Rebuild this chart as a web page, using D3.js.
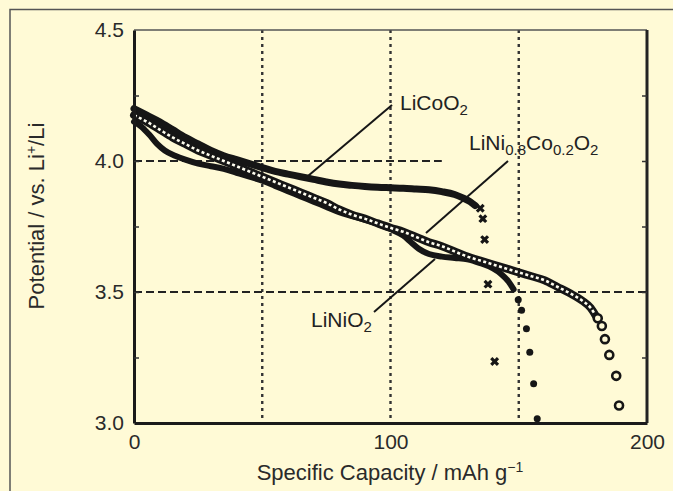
<!DOCTYPE html>
<html><head><meta charset="utf-8">
<script src="https://cdn.jsdelivr.net/npm/d3@7"></script>
<style>body{margin:0;background:#fffad6;} svg{display:block}</style>
</head><body><svg id="c" width="673" height="491"></svg>
<script>
// ---- data ----
const capacityTicks = [0, 100, 200];
const potentialTicks = [3.0, 3.5, 4.0, 4.5];
const minorPotentialTicks = [3.25, 3.5, 3.75, 4.0, 4.25];
const gridCapacities = [50, 100, 150];

// LiCoO2 (dense part)
const coCap = [0,5,10,15,20,25,30,35,40,45,50,55,60,65,70,75,80,85,90,95,100,105,110,115,120,125,128,131,133];
const coPot = [4.20,4.175,4.15,4.12,4.09,4.065,4.04,4.02,4.005,3.99,3.975,3.96,3.95,3.94,3.93,3.92,3.912,3.907,3.903,3.90,3.898,3.896,3.893,3.89,3.883,3.872,3.86,3.845,3.83];
const coTailCap = [135, 136, 136.7, 138, 140.6];
const coTailPot = [3.82, 3.78, 3.70, 3.53, 3.235];

// LiNi0.8Co0.2O2 (dense part)
const nicoCap = [0,5,10,15,20,25,30,35,40,45,50,55,60,65,70,75,80,85,90,95,100,105,110,115,120,125,130,135,140,145,150,155,160,165,170,175,178,180];
const nicoPot = [4.175,4.15,4.12,4.09,4.065,4.04,4.02,4.0,3.98,3.96,3.94,3.92,3.90,3.88,3.86,3.84,3.815,3.795,3.78,3.762,3.745,3.73,3.71,3.69,3.675,3.655,3.635,3.62,3.605,3.59,3.575,3.56,3.545,3.52,3.495,3.465,3.44,3.41];
const nicoTailCap = [180.8, 182.4, 183.6, 185.3, 188, 189.1];
const nicoTailPot = [3.40, 3.37, 3.32, 3.26, 3.18, 3.067];

// LiNiO2 (dense part)
const niCap = [0,3,6,9,12,16,20,25,30,35,40,45,50,55,60,65,70,75,80,85,90,95,100,105,108,111,115,120,125,130,135,140,143,146,148];
const niPot = [4.15,4.13,4.10,4.065,4.04,4.02,4.005,3.99,3.98,3.97,3.955,3.94,3.925,3.905,3.885,3.865,3.845,3.825,3.805,3.79,3.775,3.76,3.74,3.715,3.69,3.665,3.645,3.635,3.63,3.625,3.61,3.59,3.57,3.54,3.51];
const niTailCap = [149.8, 151.1, 153, 154.3, 155.8, 157.2];
const niTailPot = [3.47, 3.43, 3.36, 3.27, 3.15, 3.016];

// ---- drawing ----
const FONT = "'Liberation Sans', Arial, Helvetica, sans-serif";
const svg = d3.select("#c");
const x = d3.scaleLinear().domain([0, 200]).range([134, 647]);
const y = d3.scaleLinear().domain([3.0, 4.5]).range([423, 30]);
const ink = "#161616";

svg.append("rect").attr("width", 673).attr("height", 491).attr("fill", "#fffad6");
// figure frame (left & top edges)
svg.append("path").attr("d", "M10,491V9.5H673").attr("fill", "none").attr("stroke", "#555").attr("stroke-width", 1.5);

// grid lines
svg.append("g").selectAll("line").data(gridCapacities).join("line")
  .attr("x1", d => x(d)).attr("x2", d => x(d)).attr("y1", y(4.5)).attr("y2", y(3.0))
  .attr("stroke", "#333").attr("stroke-width", 2.4).attr("stroke-dasharray", "3,4");
const hGrid = [{v: 4.0, to: 120}, {v: 3.5, to: 200}];
svg.append("g").selectAll("line").data(hGrid).join("line")
  .attr("x1", x(0)).attr("x2", d => x(d.to)).attr("y1", d => y(d.v)).attr("y2", d => y(d.v))
  .attr("stroke", "#222").attr("stroke-width", 2).attr("stroke-dasharray", "8,4");

const line = d3.line().x(d => x(d[0])).y(d => y(d[1])).curve(d3.curveMonotoneX);
const zip = (a, b) => a.map((v, i) => [v, b[i]]);

// LiNiO2 band
svg.append("path").datum(zip(niCap, niPot)).attr("d", line)
  .attr("fill", "none").attr("stroke", ink).attr("stroke-width", 6).attr("stroke-linecap", "round");
// LiCoO2 band
svg.append("path").datum(zip(coCap, coPot)).attr("d", line)
  .attr("fill", "none").attr("stroke", ink).attr("stroke-width", 7).attr("stroke-linecap", "round");
// LiNi0.8Co0.2O2 band (open circles)
svg.append("path").datum(zip(nicoCap, nicoPot)).attr("d", line)
  .attr("fill", "none").attr("stroke", ink).attr("stroke-width", 8).attr("stroke-linecap", "round");
svg.append("path").datum(zip(nicoCap, nicoPot)).attr("d", line)
  .attr("fill", "none").attr("stroke", "#fffef0").attr("stroke-width", 2.6).attr("stroke-dasharray", "3,2.5");

// tails
const cross = d3.symbol().type(d3.symbolCross).size(50);
svg.append("g").selectAll("path").data(zip(coTailCap, coTailPot)).join("path")
  .attr("d", cross).attr("transform", d => `translate(${x(d[0])},${y(d[1])}) rotate(45)`).attr("fill", ink);
svg.append("g").selectAll("circle").data(zip(niTailCap, niTailPot)).join("circle")
  .attr("cx", d => x(d[0])).attr("cy", d => y(d[1])).attr("r", 3.5).attr("fill", ink);
svg.append("g").selectAll("circle").data(zip(nicoTailCap, nicoTailPot)).join("circle")
  .attr("cx", d => x(d[0])).attr("cy", d => y(d[1])).attr("r", 4).attr("fill", "#fffad6")
  .attr("stroke", ink).attr("stroke-width", 2.6);

// plot frame
svg.append("line").attr("x1", x(0)).attr("x2", x(200)).attr("y1", y(4.5)).attr("y2", y(4.5)).attr("stroke", "#555").attr("stroke-width", 1.5);
svg.append("line").attr("x1", x(200)).attr("x2", x(200)).attr("y1", y(4.5)).attr("y2", y(3.0)).attr("stroke", "#222").attr("stroke-width", 3);

// axes
const yAxis = svg.append("g").attr("transform", `translate(${x(0)},0)`)
  .call(d3.axisLeft(y).tickValues(potentialTicks).tickFormat(d3.format(".1f")).tickSize(0).tickSizeOuter(0).tickPadding(10));
const xAxis = svg.append("g").attr("transform", `translate(0,${y(3.0)})`)
  .call(d3.axisBottom(x).tickValues(capacityTicks).tickFormat(d3.format("d")).tickSize(0).tickSizeOuter(0).tickPadding(11));
[yAxis, xAxis].forEach(g => {
  g.select(".domain").attr("stroke", "#1a1a1a").attr("stroke-width", 3);
  g.selectAll("text").attr("font-family", FONT).attr("font-size", 21).attr("fill", "#2a2a2a");
});
// minor ticks, inward
svg.append("g").attr("transform", `translate(${x(0)},0)`)
  .call(d3.axisLeft(y).tickValues(minorPotentialTicks).tickFormat("").tickSize(-5).tickSizeOuter(0))
  .call(g => { g.select(".domain").remove(); g.selectAll("line").attr("stroke", "#333").attr("stroke-width", 1.5); });
svg.append("g").attr("transform", `translate(${x(200)},0)`)
  .call(d3.axisRight(y).tickValues(minorPotentialTicks).tickFormat("").tickSize(-5).tickSizeOuter(0))
  .call(g => { g.select(".domain").remove(); g.selectAll("line").attr("stroke", "#333").attr("stroke-width", 1.5); });

// axis titles
const xt = svg.append("text").attr("x", 390).attr("y", 480).attr("text-anchor", "middle")
  .attr("font-family", FONT).attr("font-size", 22).attr("fill", "#2a2a2a");
xt.append("tspan").text("Specific Capacity / mAh g");
xt.append("tspan").attr("dy", -8).attr("font-size", 14).text("\u22121");

const yt = svg.append("text").attr("transform", "translate(44,216) rotate(-90)").attr("text-anchor", "middle")
  .attr("font-family", FONT).attr("font-size", 22).attr("fill", "#2a2a2a");
yt.append("tspan").text("Potential / vs. Li");
yt.append("tspan").attr("dy", -8).attr("font-size", 14).text("+");
yt.append("tspan").attr("dy", 8).text("/Li");

// annotations
const leaders = [
  [[392, 105], [308, 176]],
  [[508, 161], [426, 233]],
  [[435, 259], [374, 312]]
];
svg.append("g").selectAll("path").data(leaders).join("path")
  .attr("d", d => `M${d[0][0]},${d[0][1]}L${d[1][0]},${d[1][1]}`)
  .attr("stroke", ink).attr("stroke-width", 2).attr("fill", "none");

function label(xp, yp, parts) {
  const t = svg.append("text").attr("x", xp).attr("y", yp).attr("font-family", FONT)
    .attr("font-size", 21).attr("fill", "#222");
  let sub = false;
  parts.forEach(p => {
    const isSub = p.startsWith("_");
    const txt = isSub ? p.slice(1) : p;
    const ts = t.append("tspan").text(txt);
    if (isSub && !sub) { ts.attr("dy", 5).attr("font-size", 15); sub = true; }
    else if (!isSub && sub) { ts.attr("dy", -5); sub = false; }
  });
}
label(400, 110, ["LiCoO", "_2"]);
label(469, 150, ["LiNi", "_0.8", "Co", "_0.2", "O", "_2"]);
label(311, 327, ["LiNiO", "_2"]);
</script></body></html>
